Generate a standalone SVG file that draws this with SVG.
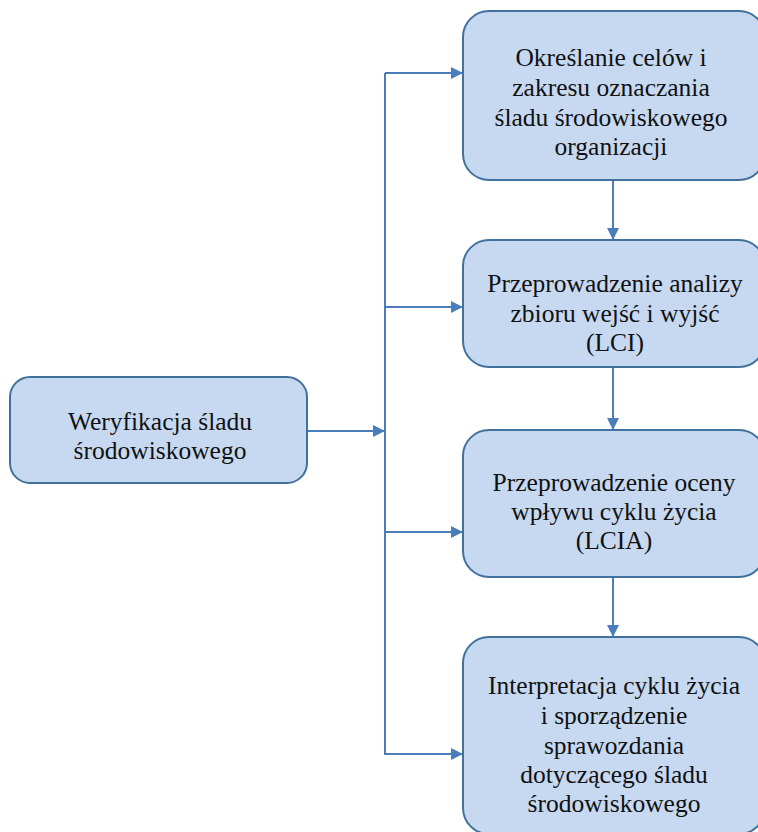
<svg xmlns="http://www.w3.org/2000/svg" width="758" height="832" viewBox="0 0 758 832">
  <style>
    .box { fill: #c6d9f1; stroke: #41719c; stroke-width: 2; }
    .lbl { font-family: "Liberation Serif", "DejaVu Serif", serif; font-size: 25.5px; fill: #111; text-anchor: middle; }
    .conn { fill: none; stroke: #4a7ebb; stroke-width: 2; }
  </style>
  <defs>
    <marker id="arrow" markerUnits="userSpaceOnUse" markerWidth="12" markerHeight="12" refX="12" refY="6" orient="auto">
      <path d="M0,0 L12,6 L0,12 z" fill="#4a7ebb"/>
    </marker>
  </defs>

  <!-- connectors -->
  <g id="connectors">
    <line class="conn" x1="385" y1="73" x2="385" y2="755"/>
    <line class="conn" x1="307" y1="431" x2="385" y2="431" marker-end="url(#arrow)"/>
    <line class="conn" x1="385" y1="73" x2="463" y2="73" marker-end="url(#arrow)"/>
    <line class="conn" x1="385" y1="307" x2="463" y2="307" marker-end="url(#arrow)"/>
    <line class="conn" x1="385" y1="532" x2="463" y2="532" marker-end="url(#arrow)"/>
    <line class="conn" x1="384" y1="754" x2="463" y2="754" marker-end="url(#arrow)"/>
    <line class="conn" x1="613" y1="180" x2="613" y2="240" marker-end="url(#arrow)"/>
    <line class="conn" x1="613" y1="367" x2="613" y2="430" marker-end="url(#arrow)"/>
    <line class="conn" x1="613" y1="577" x2="613" y2="637" marker-end="url(#arrow)"/>
  </g>

  <!-- source -->
  <g id="weryfikacja">
    <rect class="box" x="10" y="377" width="297" height="106" rx="20" ry="20"/>
    <text class="lbl" x="160" y="430">Weryfikacja śladu</text>
    <text class="lbl" x="160" y="459">środowiskowego</text>
  </g>

  <!-- step 1 -->
  <g id="cele">
    <rect class="box" x="463" y="11" width="302" height="169" rx="26" ry="26"/>
    <text class="lbl" x="611" y="66">Określanie celów i</text>
    <text class="lbl" x="611" y="96">zakresu oznaczania</text>
    <text class="lbl" x="611" y="126">śladu środowiskowego</text>
    <text class="lbl" x="611" y="155">organizacji</text>
  </g>

  <!-- step 2 -->
  <g id="lci">
    <rect class="box" x="463" y="240" width="302" height="127" rx="26" ry="26"/>
    <text class="lbl" x="615" y="292">Przeprowadzenie analizy</text>
    <text class="lbl" x="615" y="322">zbioru wejść i wyjść</text>
    <text class="lbl" x="615" y="351">(LCI)</text>
  </g>

  <!-- step 3 -->
  <g id="lcia">
    <rect class="box" x="463" y="430" width="302" height="147" rx="26" ry="26"/>
    <text class="lbl" x="614" y="491">Przeprowadzenie oceny</text>
    <text class="lbl" x="614" y="520">wpływu cyklu życia</text>
    <text class="lbl" x="614" y="549">(LCIA)</text>
  </g>

  <!-- step 4 -->
  <g id="interpretacja">
    <rect class="box" x="463" y="637" width="302" height="197" rx="26" ry="26"/>
    <text class="lbl" x="614" y="694">Interpretacja cyklu życia</text>
    <text class="lbl" x="614" y="724">i sporządzenie</text>
    <text class="lbl" x="614" y="754">sprawozdania</text>
    <text class="lbl" x="614" y="783">dotyczącego śladu</text>
    <text class="lbl" x="614" y="812">środowiskowego</text>
  </g>
</svg>
